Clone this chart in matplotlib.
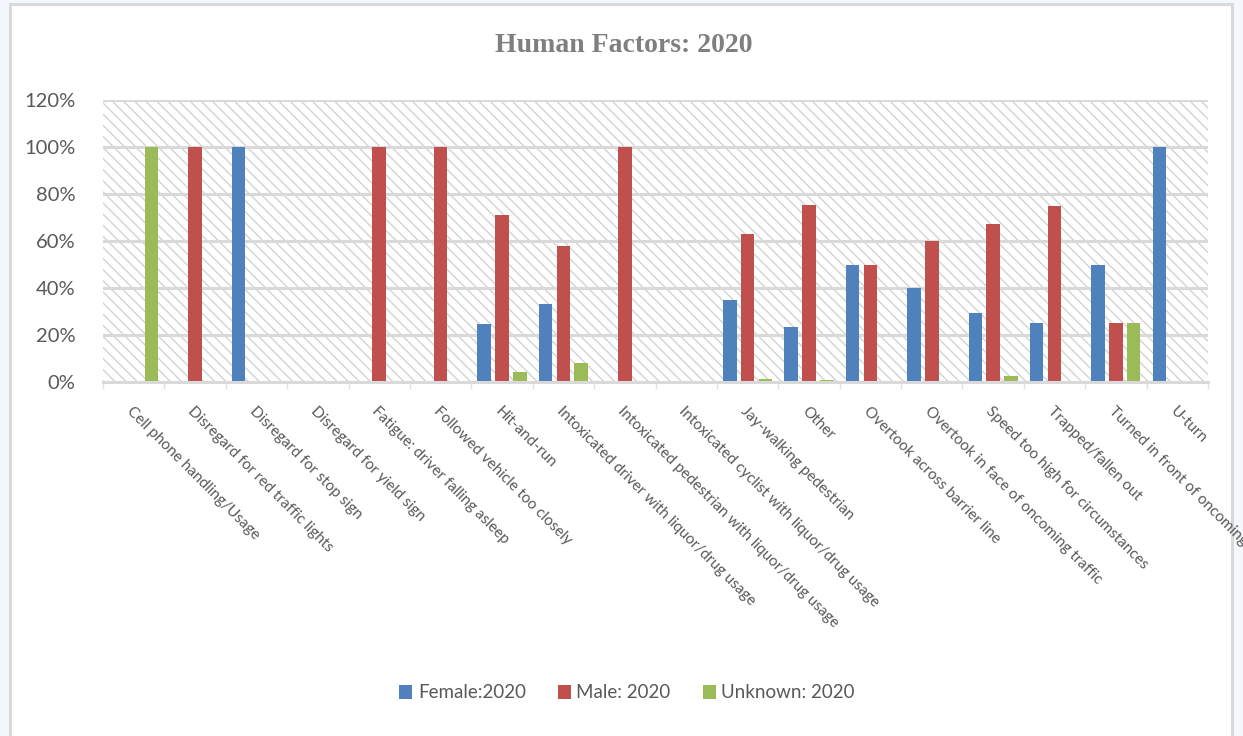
import matplotlib
matplotlib.use("Agg")
import matplotlib.pyplot as plt
from matplotlib.patches import Rectangle
from matplotlib.ticker import PercentFormatter
import numpy as np

categories = [
    "Cell phone handling/Usage",
    "Disregard for red traffic lights",
    "Disregard for stop sign",
    "Disregard for yield sign",
    "Fatigue: driver falling asleep",
    "Followed vehicle too closely",
    "Hit-and-run",
    "Intoxicated driver with liquor/drug usage",
    "Intoxicated pedestrian with liquor/drug usage",
    "Intoxicated cyclist with liquor/drug usage",
    "Jay-walking pedestrian",
    "Other",
    "Overtook across barrier line",
    "Overtook in face of oncoming traffic",
    "Speed too high for circumstances",
    "Trapped/fallen out",
    "Turned in front of oncoming traffic",
    "U-turn",
]
female = [0, 0, 100, 0, 0, 0, 24.5, 33.3, 0, 0, 35, 23.2, 50, 40, 29.4, 25, 50, 100]
male = [0, 100, 0, 0, 100, 100, 71.2, 58, 100, 0, 63, 75.5, 50, 60, 67.4, 75, 25, 0]
unknown = [100, 0, 0, 0, 0, 0, 4.4, 8, 0, 0, 1.3, 0.8, 0, 0, 2.6, 0, 25, 0]
series_names = ["Female:2020", "Male: 2020", "Unknown: 2020"]
colors = ["#4F81BD", "#C0504D", "#9BBB59"]
yticks = [0, 20, 40, 60, 80, 100, 120]

plt.rcParams['font.family'] = ['Lato', 'DejaVu Sans']

fig = plt.figure(figsize=(12.43, 7.36), dpi=100)
fig.patch.set_facecolor("#f4f7fb")
# chart area white box with border
border = Rectangle((10/1243, -0.01), (1232-10)/1243, 1 - 4/736 + 0.01,
                   transform=fig.transFigure, facecolor="white",
                   edgecolor="#d9d9d9", linewidth=2.2, zorder=-5)
fig.add_artist(border)

ax = fig.add_axes([103/1243, 1 - 382/736, (1208-103)/1243, (382-100)/736])
ax.set_facecolor("none")
ax.add_patch(Rectangle((0, 0), 1, 1, transform=ax.transAxes, facecolor="white",
                       edgecolor="#d3d3d3", hatch="\\\\\\", linewidth=0, zorder=0))

x = np.arange(len(categories))
w = 0.22
off = 0.29
for i, (vals, name, c) in enumerate(zip([female, male, unknown], series_names, colors)):
    ax.bar(x + (i - 1) * off, np.array(vals) / 100.0, width=w, color=c, label=name, zorder=3)

ax.set_xlim(-0.5, len(categories) - 0.5)
ax.set_ylim(0, 1.2)
ax.set_yticks(np.array(yticks) / 100.0)
ax.yaxis.set_major_formatter(PercentFormatter(1.0, decimals=0))
ax.grid(axis="y", color="#d9d9d9", linewidth=2.2, zorder=1)
ax.set_axisbelow(True)
for s in ["top", "right", "left"]:
    ax.spines[s].set_visible(False)
ax.spines["bottom"].set_color("#d9d9d9")
ax.spines["bottom"].set_linewidth(2.2)
ax.spines["bottom"].set_zorder(4)

ax.tick_params(axis="y", length=0, labelsize=14.5, labelcolor="#595959", pad=20)
ax.set_xticks(x)
ax.set_xticklabels(categories, rotation=-45, ha="left", va="top",
                   rotation_mode="anchor", fontsize=11, color="#595959")
ax.tick_params(axis="x", length=0, pad=16)
ax.set_xticks(np.arange(len(categories) + 1) - 0.5, minor=True)
ax.tick_params(axis="x", which="minor", length=5, color="#e0e0e0", width=1)

fig.text(624/1243, 1 - 45/736, "Human Factors: 2020", ha="center", va="center",
         fontsize=20, fontweight="bold", color="#7f7f7f",
         family=["Liberation Serif", "DejaVu Serif"])

leg = fig.legend(loc="center", bbox_to_anchor=(627/1243, 1 - 693/736), ncol=3,
                 frameon=False, fontsize=13.5, handlelength=0.7, handleheight=0.7,
                 handletextpad=0.3, columnspacing=1.7)
for t in leg.get_texts():
    t.set_color("#595959")

fig.savefig("out.png", dpi=100, facecolor=fig.get_facecolor())
